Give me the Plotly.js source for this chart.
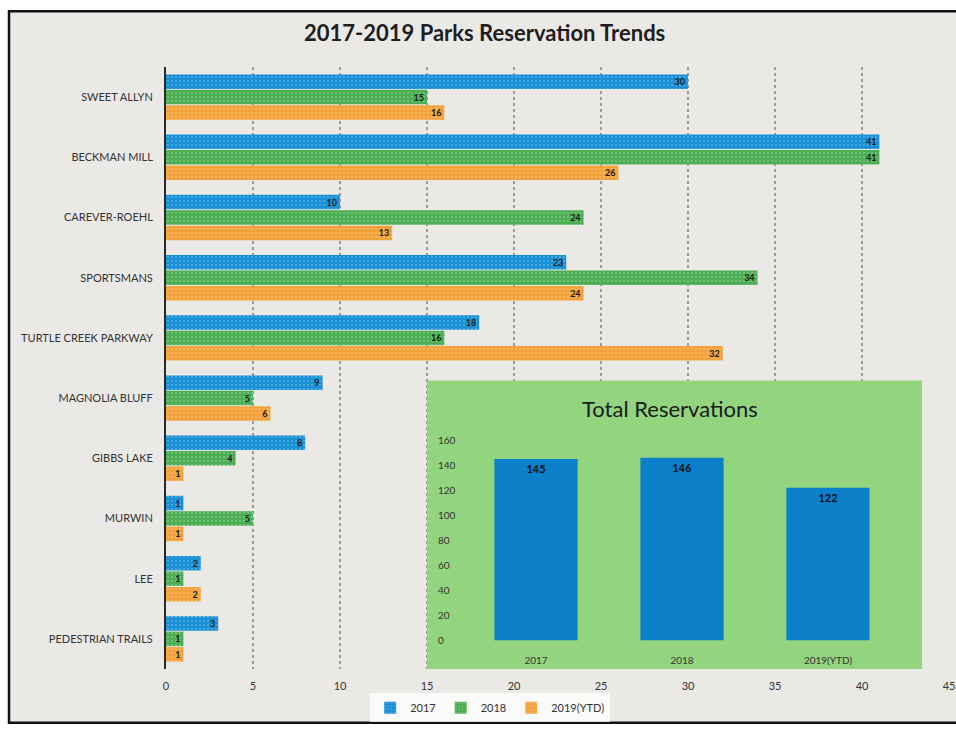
<!DOCTYPE html>
<html>
<head>
<meta charset="utf-8">
<script src="https://cdn.plot.ly/plotly-3.0.1.min.js"></script>
<style>html,body{margin:0;padding:0;background:#fff}#chart{width:956px;height:729px}</style>
</head>
<body>
<div id="chart"></div>
<script>
// ---- data ----
const parks = ["SWEET ALLYN","BECKMAN MILL","CAREVER-ROEHL","SPORTSMANS","TURTLE CREEK PARKWAY","MAGNOLIA BLUFF","GIBBS LAKE","MURWIN","LEE","PEDESTRIAN TRAILS"];
const seriesNames = ["2017","2018","2019(YTD)"];
const values2017 = [30,41,10,23,18,9,8,1,2,3];
const values2018 = [15,41,24,34,16,5,4,5,1,1];
const values2019 = [16,26,13,24,32,6,1,1,2,1];
const totalYears = ["2017","2018","2019(YTD)"];
const totalValues = [145,146,122];
const xTicks = [0,5,10,15,20,25,30,35,40,45];
const insetTicks = [0,20,40,60,80,100,120,140,160];

const colors = ["#1890d6","#4cae52","#f3a23a"];
const font = "Lato, 'Open Sans', sans-serif";

function barTrace(vals, i){
  return {
    type:"bar", orientation:"h", name:seriesNames[i],
    y:parks, x:vals, xaxis:"x", yaxis:"y",
    marker:{color:colors[i], line:{width:0},
      pattern:{shape:".", bgcolor:colors[i], fgcolor:"rgba(255,255,255,0.28)", size:4, solidity:0.2}},
    text:vals.map(String), textposition:"inside", insidetextanchor:"end", textangle:0,
    constraintext:"none", cliponaxis:false,
    textfont:{family:font, size:9, color:"#1a1a1a", weight:"bold"},
    hoverinfo:"x+y"
  };
}

const traces = [
  barTrace(values2017,0), barTrace(values2018,1), barTrace(values2019,2),
  {type:"bar", x:totalYears, y:totalValues, xaxis:"x2", yaxis:"y2", showlegend:false,
   marker:{color:"#0b80c9", line:{width:0}}, width:0.57,
   text:totalValues.map(String),
   textposition:"inside", insidetextanchor:"end", textangle:0,
   constraintext:"none",
   textfont:{family:font, size:11, color:"#111", weight:"bold"}}
];

const layout = {
  width:956, height:729,
  margin:{l:166, r:7, t:67, b:57},
  paper_bgcolor:"#ffffff", plot_bgcolor:"rgba(0,0,0,0)",
  font:{family:font, color:"#333"},
  title:{text:"2017-2019 Parks Reservation Trends", x:0.407, xref:"paper", xanchor:"center",
         y:0.955, yanchor:"middle", font:{family:font, size:22, color:"#1e1e1e", weight:"bold"}},
  barmode:"group", bargap:0.23, bargroupgap:0.06,
  xaxis:{range:[0,45], tickvals:xTicks, showgrid:true, gridcolor:"#9a9a9a", griddash:"dot", gridwidth:1.2,
         zeroline:false, showline:false, ticks:"outside", ticklen:7, tickcolor:"rgba(0,0,0,0)",
         tickfont:{size:11, color:"#333"}},
  yaxis:{type:"category", autorange:"reversed", showline:true, linecolor:"#2a2a2a", linewidth:2,
         ticks:"outside", ticklen:9, tickcolor:"rgba(0,0,0,0)", showgrid:false,
         tickfont:{size:11, color:"#333"}},
  xaxis2:{domain:[0.3333,0.9655], anchor:"y2", type:"category", range:[-0.747,2.644],
          showgrid:false, showline:false, zeroline:false, ticks:"", ticklabelposition:"inside",
          tickfont:{size:10, color:"#333"}},
  yaxis2:{domain:[0,0.4793], anchor:"x2", range:[-23.1,207.8], tickvals:insetTicks,
          showgrid:false, showline:false, zeroline:false, ticks:"", ticklabelposition:"inside",
          ticklabelstandoff:8, tickfont:{size:10, color:"#333"}},
  legend:{orientation:"h", x:0.414, xanchor:"center", y:-0.0645, yanchor:"middle",
          bgcolor:"rgba(255,255,255,0.75)", font:{size:11, color:"#333"}, itemwidth:30},
  shapes:[
    {type:"rect", xref:"paper", yref:"paper", x0:-0.2005, x1:1.0166, y0:-0.0893, y1:1.0926,
     fillcolor:"#ebe9e5", line:{color:"#111", width:2.5}, layer:"below"},
    {type:"rect", xref:"x2", yref:"y2", x0:-2, x1:4, y0:-100, y1:300,
     fillcolor:"#93d47f", line:{width:0}, layer:"below"}
  ],
  annotations:[
    {text:"Total Reservations", xref:"paper", yref:"paper", x:(670-166)/783, y:(672-410)/605,
     xanchor:"center", yanchor:"middle", showarrow:false, font:{family:font, size:22, color:"#1a1a1a"}}
  ]
};

Plotly.newPlot("chart", traces, layout, {displayModeBar:false, staticPlot:true});
</script>
</body>
</html>
